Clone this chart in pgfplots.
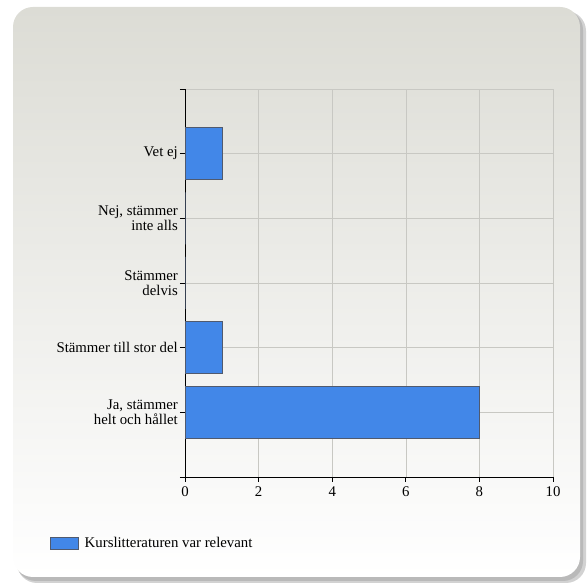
\documentclass[border=0pt]{standalone}
\usepackage{pgfplots}
\pgfplotsset{compat=1.18}
\usepackage{fontspec}
\setmainfont{Liberation Serif}
\definecolor{bgtop}{RGB}{220,220,213}
\definecolor{barblue}{RGB}{66,135,232}
\definecolor{baredge}{RGB}{80,90,110}
\definecolor{gridgray}{RGB}{200,200,195}
\begin{document}
\begin{tikzpicture}
\useasboundingbox (0pt,0pt) rectangle (587pt,583pt);
\fill[gray!35, rounded corners=20pt] (17pt,0pt) rectangle (586pt,572pt);
\fill[gray!55, rounded corners=20pt] (16pt,2pt) rectangle (583pt,573pt);
\shade[top color=bgtop, bottom color=white, rounded corners=20pt] (13pt,6pt) rectangle (580pt,576pt);
\begin{axis}[
  at={(185pt,106pt)}, anchor=south west,
  scale only axis, width=368pt, height=388pt,
  xbar, bar width=52pt,
  xmin=0, xmax=10, ymin=-1, ymax=5,
  xtick={0,2,4,6,8,10},
  ytick={-1,0,1,2,3,4,5},
  yticklabels={,{Ja, stämmer\\helt och hållet},{Stämmer till stor del},{Stämmer\\delvis},{Nej, stämmer\\inte alls},{Vet ej},},
  yticklabel style={align=right, font=\fontsize{14.8}{15.5}\selectfont, inner xsep=2pt},
  xticklabel style={font=\fontsize{14.8}{15.5}\selectfont, yshift=-1pt},
  /pgf/number format/assume math mode=true,
  axis lines=left,
  axis line style={-, black, line width=0.9pt},
  tick align=outside,
  major tick length=5pt,
  tick style={black, line width=0.9pt},
  grid=major,
  grid style={gridgray, line width=0.6pt},
  legend style={at={(-0.367,-0.170)}, anchor=west, draw=none, fill=none, inner sep=0pt,
    font=\fontsize{14.8}{15.5}\selectfont},
  legend image code/.code={\draw[fill=barblue, draw=baredge, line width=0.6pt] (0pt,-6pt) rectangle (28pt,6pt);},
  legend cell align=left,
  legend style={/tikz/every even column/.append style={column sep=0pt}},
]
\addplot[fill=barblue, draw=baredge, line width=0.6pt] coordinates {(8,0) (1,1) (0,2) (0,3) (1,4)};
\addlegendentry{\hspace{4pt}Kurslitteraturen var relevant}
\end{axis}
\end{tikzpicture}
\end{document}
